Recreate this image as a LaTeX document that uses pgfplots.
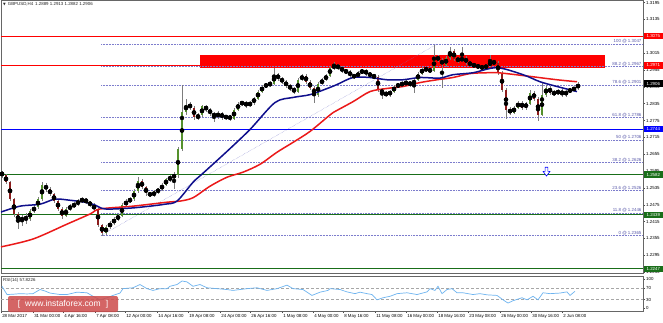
\documentclass[border=0pt]{standalone}
\usepackage{fontspec}
\setmainfont{Liberation Sans}
\newfontfamily\dejavu{DejaVu Sans}
\usepackage{pgfplots}
\usepackage{pgfplotstable}
\pgfplotsset{compat=1.18}

\definecolor{upg}{RGB}{85,145,45}
\definecolor{dnr}{RGB}{140,28,28}
\definecolor{wick}{RGB}{125,125,125}
\definecolor{maBlue}{RGB}{15,15,140}
\definecolor{maRed}{RGB}{235,25,25}
\definecolor{fib}{RGB}{125,125,205}
\definecolor{fibtxt}{RGB}{90,90,170}
\definecolor{lvlGreen}{RGB}{25,110,25}
\definecolor{rsiblue}{RGB}{110,180,240}
\definecolor{wm}{RGB}{205,75,75}

\newcommand\tickfont{\fontsize{4.4}{5}\selectfont}

\pgfdeclareplotmark{dnarrow}{%
 \pgfpathmoveto{\pgfqpoint{-1.4pt}{4.5pt}}%
 \pgfpathlineto{\pgfqpoint{1.4pt}{4.5pt}}%
 \pgfpathlineto{\pgfqpoint{1.4pt}{0.3pt}}%
 \pgfpathlineto{\pgfqpoint{3.4pt}{0.3pt}}%
 \pgfpathlineto{\pgfqpoint{0pt}{-4.3pt}}%
 \pgfpathlineto{\pgfqpoint{-3.4pt}{0.3pt}}%
 \pgfpathlineto{\pgfqpoint{-1.4pt}{0.3pt}}%
 \pgfpathclose
 \pgfusepathqfillstroke}

\pgfplotstableread{
x o h l c
2 1.2590 1.2596 1.2572 1.2580
6 1.2580 1.2585 1.2548 1.2555
10 1.2555 1.2560 1.2488 1.2495
14 1.2495 1.2500 1.2430 1.2442
18 1.2442 1.2448 1.2389 1.2417
22 1.2417 1.2440 1.2400 1.2431
26 1.2431 1.2445 1.2405 1.2424
30 1.2424 1.2460 1.2418 1.2452
34 1.2452 1.2475 1.2445 1.2467
38 1.2467 1.2502 1.2460 1.2495
42 1.2495 1.2555 1.2490 1.2545
46 1.2545 1.2552 1.2522 1.2530
50 1.2530 1.2538 1.2505 1.2513
54 1.2513 1.2518 1.2480 1.2488
58 1.2488 1.2495 1.2452 1.2460
62 1.2460 1.2466 1.2425 1.2435
66 1.2435 1.2468 1.2430 1.2460
70 1.2460 1.2478 1.2452 1.2470
74 1.2470 1.2485 1.2462 1.2477
78 1.2477 1.2495 1.2470 1.2488
82 1.2488 1.2503 1.2480 1.2495
86 1.2495 1.2500 1.2476 1.2484
90 1.2484 1.2490 1.2466 1.2474
94 1.2474 1.2480 1.2452 1.2460
98 1.2460 1.2465 1.2396 1.2403
102 1.2403 1.2408 1.2365 1.2374
106 1.2374 1.2402 1.2368 1.2396
110 1.2396 1.2416 1.2390 1.2410
114 1.2410 1.2430 1.2404 1.2424
118 1.2424 1.2442 1.2418 1.2435
122 1.2435 1.2480 1.2430 1.2474
126 1.2474 1.2495 1.2468 1.2488
130 1.2488 1.2502 1.2480 1.2495
134 1.2495 1.2530 1.2490 1.2523
138 1.2523 1.2573 1.2518 1.2559
142 1.2559 1.2565 1.2530 1.2538
146 1.2538 1.2542 1.2508 1.2516
150 1.2516 1.2522 1.2502 1.2509
154 1.2509 1.2526 1.2503 1.2520
158 1.2520 1.2536 1.2514 1.2530
162 1.2530 1.2552 1.2525 1.2545
166 1.2545 1.2572 1.2540 1.2566
170 1.2566 1.2580 1.2555 1.2573
174 1.2573 1.2590 1.2530 1.2580
178 1.2580 1.2680 1.2572 1.2672
182 1.2672 1.2903 1.2665 1.2807
186 1.2807 1.2850 1.2795 1.2832
190 1.2832 1.2842 1.2812 1.2821
194 1.2821 1.2828 1.2778 1.2786
198 1.2786 1.2800 1.2776 1.2793
202 1.2793 1.2832 1.2788 1.2825
206 1.2825 1.2832 1.2806 1.2814
210 1.2814 1.2820 1.2792 1.2800
214 1.2800 1.2806 1.2770 1.2789
218 1.2789 1.2808 1.2782 1.2800
222 1.2800 1.2806 1.2778 1.2786
226 1.2786 1.2796 1.2778 1.2789
230 1.2789 1.2795 1.2775 1.2782
234 1.2782 1.2820 1.2778 1.2814
238 1.2814 1.2842 1.2808 1.2835
242 1.2835 1.2846 1.2828 1.2839
246 1.2839 1.2845 1.2820 1.2828
250 1.2828 1.2846 1.2822 1.2839
254 1.2839 1.2860 1.2832 1.2853
258 1.2853 1.2885 1.2848 1.2878
262 1.2878 1.2903 1.2872 1.2896
266 1.2896 1.2910 1.2890 1.2903
270 1.2903 1.2915 1.2896 1.2906
274 1.2906 1.2963 1.2900 1.2938
278 1.2938 1.2945 1.2916 1.2924
282 1.2924 1.2930 1.2906 1.2913
286 1.2913 1.2920 1.2890 1.2899
290 1.2899 1.2905 1.2880 1.2889
294 1.2889 1.2895 1.2868 1.2878
298 1.2878 1.2928 1.2872 1.2920
302 1.2920 1.2942 1.2914 1.2935
306 1.2935 1.2940 1.2906 1.2913
310 1.2913 1.2918 1.2884 1.2892
314 1.2892 1.2898 1.2839 1.2867
318 1.2867 1.2912 1.2860 1.2906
322 1.2906 1.2927 1.2900 1.2920
326 1.2920 1.2942 1.2914 1.2935
330 1.2935 1.2970 1.2930 1.2963
334 1.2963 1.2984 1.2956 1.2970
338 1.2970 1.2976 1.2955 1.2963
342 1.2963 1.2968 1.2945 1.2952
346 1.2952 1.2958 1.2940 1.2949
350 1.2949 1.2955 1.2928 1.2935
354 1.2935 1.2942 1.2924 1.2931
358 1.2931 1.2952 1.2925 1.2945
362 1.2945 1.2960 1.2940 1.2952
366 1.2952 1.2958 1.2935 1.2942
370 1.2942 1.2948 1.2928 1.2935
374 1.2935 1.2940 1.2922 1.2931
378 1.2931 1.2936 1.2876 1.2885
382 1.2885 1.2892 1.2850 1.2871
386 1.2871 1.2880 1.2860 1.2867
390 1.2867 1.2885 1.2860 1.2878
394 1.2878 1.2903 1.2872 1.2896
398 1.2896 1.2910 1.2890 1.2903
402 1.2903 1.2914 1.2896 1.2906
406 1.2906 1.2918 1.2900 1.2910
410 1.2910 1.2916 1.2895 1.2903
414 1.2903 1.2926 1.2874 1.2920
418 1.2920 1.2948 1.2914 1.2942
422 1.2942 1.2966 1.2936 1.2959
426 1.2959 1.2966 1.2948 1.2956
430 1.2956 1.2962 1.2944 1.2952
434 1.2952 1.3044 1.2946 1.3002
438 1.3002 1.3010 1.2982 1.2991
442 1.2991 1.2998 1.2892 1.2974
446 1.2974 1.3005 1.2966 1.2998
450 1.2998 1.3037 1.2992 1.3023
454 1.3023 1.3028 1.2988 1.2995
458 1.2995 1.3002 1.2980 1.2988
462 1.2988 1.3037 1.2982 1.2998
466 1.2998 1.3004 1.2974 1.2981
470 1.2981 1.2988 1.2966 1.2974
474 1.2974 1.2980 1.2962 1.2970
478 1.2970 1.2976 1.2958 1.2966
482 1.2966 1.2972 1.2955 1.2963
486 1.2963 1.2977 1.2956 1.2970
490 1.2970 1.3009 1.2964 1.2984
494 1.2984 1.2990 1.2972 1.2981
498 1.2981 1.2986 1.2938 1.2945
502 1.2945 1.2950 1.2878 1.2885
506 1.2885 1.2890 1.2779 1.2814
510 1.2814 1.2822 1.2795 1.2803
514 1.2803 1.2828 1.2798 1.2821
518 1.2821 1.2846 1.2815 1.2839
522 1.2839 1.2845 1.2812 1.2821
526 1.2821 1.2842 1.2814 1.2835
530 1.2835 1.2882 1.2830 1.2874
534 1.2874 1.2880 1.2846 1.2853
538 1.2853 1.2858 1.2772 1.2796
542 1.2796 1.2910 1.2790 1.2867
546 1.2867 1.2900 1.2860 1.2892
550 1.2892 1.2898 1.2866 1.2874
554 1.2874 1.2882 1.2862 1.2871
558 1.2871 1.2888 1.2864 1.2881
562 1.2881 1.2886 1.2858 1.2867
566 1.2867 1.2885 1.2860 1.2878
570 1.2878 1.2892 1.2872 1.2885
574 1.2885 1.2896 1.2880 1.2889
578 1.2889 1.2913 1.2882 1.2906
}\candles

\pgfplotstableread{
x y
1 1.2449
20 1.2470
40 1.2477
55 1.2495
70 1.2491
85 1.2484
95 1.2474
105 1.2460
130 1.2463
150 1.2470
165 1.2477
177 1.2488
193 1.2555
202 1.2584
227 1.2665
250 1.2743
275 1.2839
293 1.2857
310 1.2867
328 1.2890
337 1.2903
353 1.2928
370 1.2928
387 1.2920
403 1.2920
420 1.2928
440 1.2926
453 1.2938
473 1.2945
497 1.2963
523 1.2938
540 1.2913
557 1.2896
577 1.2878
}\maslow

\pgfplotstableread{
x y
1 1.2325
33 1.2353
67 1.2406
90 1.2442
100 1.2460
133 1.2470
167 1.2484
180 1.2488
193 1.2500
210 1.2541
227 1.2573
243 1.2591
260 1.2619
277 1.2662
293 1.2697
310 1.2736
328 1.2789
333 1.2803
353 1.2842
370 1.2878
387 1.2889
403 1.2896
420 1.2910
437 1.2920
453 1.2928
470 1.2942
487 1.2945
498 1.2945
523 1.2935
557 1.2920
577 1.2913
}\maslower

\pgfplotstableread{
x v
2 75
7 47
13 48
20 50
27 49
33 50
40 64
45 59
50 52
60 47
67 47
77 55
87 53
93 41
100 29
107 36
113 44
120 52
123 67
133 70
140 81
147 67
153 61
160 67
167 67
170 75
177 81
182 93
187 90
193 75
200 81
207 70
217 67
227 64
233 61
247 67
257 70
267 61
277 67
287 79
293 67
303 64
312 44
320 55
328 61
330 67
340 64
347 56
355 50
360 55
367 50
372 47
377 29
383 36
390 41
397 50
407 53
417 47
427 56
430 67
435 61
438 75
442 50
447 64
452 67
457 53
463 53
473 47
480 50
487 46
497 44
503 29
508 18
513 26
522 36
527 29
533 41
538 29
543 53
550 50
560 52
567 56
570 44
575 58
}\rsi

\begin{document}
\begin{tikzpicture}
\path[use as bounding box, fill=white] (0,0) rectangle (663pt,322pt);

\begin{axis}[
  at={(1pt,49pt)}, anchor=south west, scale only axis,
  width=642pt, height=273pt,
  xmin=1, xmax=643, ymin=1.2232, ymax=1.3204,
  xtick=\empty,
  ytick={1.2235,1.2295,1.2355,1.2415,1.2475,1.2535,1.2595,1.2655,1.2715,1.2775,1.2835,1.2895,1.2955,1.3015,1.3075,1.3135,1.3195},
  ytick pos=right, yticklabel pos=right,
  tick align=outside, major tick length=2pt,
  tick style={black!70, line width=0.4pt},
  y tick label style={font=\tickfont, inner sep=1pt, /pgf/number format/.cd, fixed, fixed zerofill, precision=4, assume math mode=true},
  scaled y ticks=false,
  axis line style={black!60, line width=0.6pt},
]
% resistance zone
\fill[red] (axis cs:200,1.2962) rectangle (axis cs:605,1.3007);
% fibonacci levels
\addplot[fib, densely dotted, line width=0.55pt, forget plot] coordinates {(101,1.3047) (643,1.3047)};
\addplot[fib, densely dotted, line width=0.55pt, forget plot] coordinates {(101,1.2967) (643,1.2967)};
\addplot[fib, densely dotted, line width=0.55pt, forget plot] coordinates {(101,1.2901) (643,1.2901)};
\addplot[fib, densely dotted, line width=0.55pt, forget plot] coordinates {(101,1.2786) (643,1.2786)};
\addplot[fib, densely dotted, line width=0.55pt, forget plot] coordinates {(101,1.2706) (643,1.2706)};
\addplot[fib, densely dotted, line width=0.55pt, forget plot] coordinates {(101,1.2626) (643,1.2626)};
\addplot[fib, densely dotted, line width=0.55pt, forget plot] coordinates {(101,1.2526) (643,1.2526)};
\addplot[fib, densely dotted, line width=0.55pt, forget plot] coordinates {(101,1.2446) (643,1.2446)};
\addplot[fib, densely dotted, line width=0.55pt, forget plot] coordinates {(101,1.2365) (643,1.2365)};
\addplot[fib, densely dotted, line width=0.4pt, forget plot] coordinates {(101,1.2365) (437,1.3047)};
% horizontal levels
\addplot[red, line width=1.1pt, forget plot] coordinates {(1,1.3075) (643,1.3075)};
\addplot[red, line width=1.1pt, forget plot] coordinates {(1,1.2971) (200,1.2971)};
\addplot[blue, line width=1.1pt, forget plot] coordinates {(1,1.2744) (643,1.2744)};
\addplot[lvlGreen, line width=1.1pt, forget plot] coordinates {(1,1.2582) (643,1.2582)};
\addplot[lvlGreen, line width=1.1pt, forget plot] coordinates {(1,1.2439) (643,1.2439)};
\addplot[lvlGreen, line width=1.1pt, forget plot] coordinates {(1,1.2247) (643,1.2247)};
% candles: wicks
\addplot[only marks, mark=none, forget plot,
  error bars/.cd, y dir=both, y explicit, error mark=none,
  error bar style={line width=0.55pt, draw=wick}]
  table[x=x, y expr={(\thisrow{h}+\thisrow{l})/2}, y error expr={(\thisrow{h}-\thisrow{l})/2}] {\candles};
% up bodies
\addplot[only marks, mark=none, forget plot,
  error bars/.cd, y dir=both, y explicit, error mark=none,
  error bar style={line width=1.9pt, draw=upg}]
  table[x=x, y expr={(\thisrow{o}+\thisrow{c})/2}, y error expr={max(\thisrow{c}-\thisrow{o},0)/2}] {\candles};
% down bodies
\addplot[only marks, mark=none, forget plot,
  error bars/.cd, y dir=both, y explicit, error mark=none,
  error bar style={line width=1.9pt, draw=dnr}]
  table[x=x, y expr={(\thisrow{o}+\thisrow{c})/2}, y error expr={max(\thisrow{o}-\thisrow{c},0)/2}] {\candles};
% moving averages
\addplot[maRed, line width=1.5pt, smooth, forget plot] table[x=x, y=y] {\maslower};
\addplot[maBlue, line width=1.5pt, smooth, forget plot] table[x=x, y=y] {\maslow};
% arrow
\addplot[only marks, mark=dnarrow, mark options={draw=blue, fill=white, line width=0.6pt}, forget plot] coordinates {(546.5,1.25925)};
% fib labels
\foreach \lv/\tx in {1.3047/100 @ 1.3047, 1.2967/88.2 @ 1.2967, 1.2901/78.6 @ 1.2901, 1.2786/61.8 @ 1.2786, 1.2706/50 @ 1.2706, 1.2626/38.2 @ 1.2626, 1.2526/23.6 @ 1.2526, 1.2446/11.8 @ 1.2446, 1.2365/0 @ 1.2365}{
  \edef\temp{\noexpand\node[anchor=south east, inner sep=0.4pt, font=\noexpand\tickfont, text=fibtxt] at (axis cs:642,\lv) {\tx};}
  \temp
}
\coordinate (La) at (axis cs:643,1.3075);
\coordinate (Lb) at (axis cs:643,1.2971);
\coordinate (Lc) at (axis cs:643,1.2906);
\coordinate (Ld) at (axis cs:643,1.2744);
\coordinate (Le) at (axis cs:643,1.2582);
\coordinate (Lf) at (axis cs:643,1.2439);
\coordinate (Lg) at (axis cs:643,1.2247);
\end{axis}

\begin{axis}[
  at={(1pt,11pt)}, anchor=south west, scale only axis,
  width=642pt, height=35pt,
  xmin=1, xmax=643, ymin=-9, ymax=110,
  ytick={0,30,70,100}, ytick pos=right, yticklabel pos=right,
  xtick={1,33,63,95,125,157,188,220,250,282,313,343,375,406,437,468,500,531,562},
  xticklabels={28 Mar 2017,31 Mar 00:00,4 Apr 16:00,7 Apr 08:00,12 Apr 00:00,14 Apr 16:00,19 Apr 08:00,24 Apr 00:00,26 Apr 16:00,1 May 08:00,4 May 00:00,8 May 16:00,11 May 08:00,16 May 00:00,18 May 16:00,23 May 08:00,26 May 00:00,30 May 16:00,2 Jun 08:00},
  xtick pos=bottom,
  tick align=outside, major tick length=2pt,
  tick style={black!70, line width=0.4pt},
  x tick label style={font=\tickfont, anchor=north west, inner sep=0.8pt, xshift=0.3pt},
  y tick label style={font=\tickfont, inner sep=1pt, /pgf/number format/assume math mode=true},
  axis line style={black!60, line width=0.6pt},
]
\addplot[gray!70, densely dashed, line width=0.4pt, forget plot] coordinates {(1,70) (643,70)};
\addplot[gray!70, densely dashed, line width=0.4pt, forget plot] coordinates {(1,30) (643,30)};
\addplot[rsiblue, line width=0.7pt, forget plot] table[x=x, y=v] {\rsi};
\end{axis}

% price labels on the right
\foreach \c/\col/\tx in {La/red/1.3075, Lb/red/1.2971, Lc/black/1.2906, Ld/blue/1.2744, Le/lvlGreen/1.2582, Lf/lvlGreen/1.2439, Lg/lvlGreen/1.2247}{
  \node[anchor=west, fill=\col, text=white, font=\tickfont, inner sep=0.6pt, minimum width=19pt, minimum height=6.5pt] at ([xshift=0.6pt]\c) {\tx};
}

% header
\node[anchor=west, inner sep=0pt, font=\tickfont, text=black!85] at (3pt,317.5pt) {{\dejavu\fontsize{3.5}{4}\selectfont ▼}\, GBPUSD,H4\, 1.2889 1.2913 1.2882 1.2906};
\node[anchor=west, inner sep=0pt, font=\tickfont, text=black!85] at (3pt,42pt) {RSI(14) 57.8226};

% watermark
\node[fill=wm, fill opacity=0.85, text opacity=1, rounded corners=2pt, minimum width=110pt, minimum height=16pt, inner sep=0pt, text=white, font=\fontsize{8.5}{9}\selectfont] at (63pt,18pt) {[\hspace{5pt}www.instaforex.com\hspace{5pt}]};
\end{tikzpicture}
\end{document}
